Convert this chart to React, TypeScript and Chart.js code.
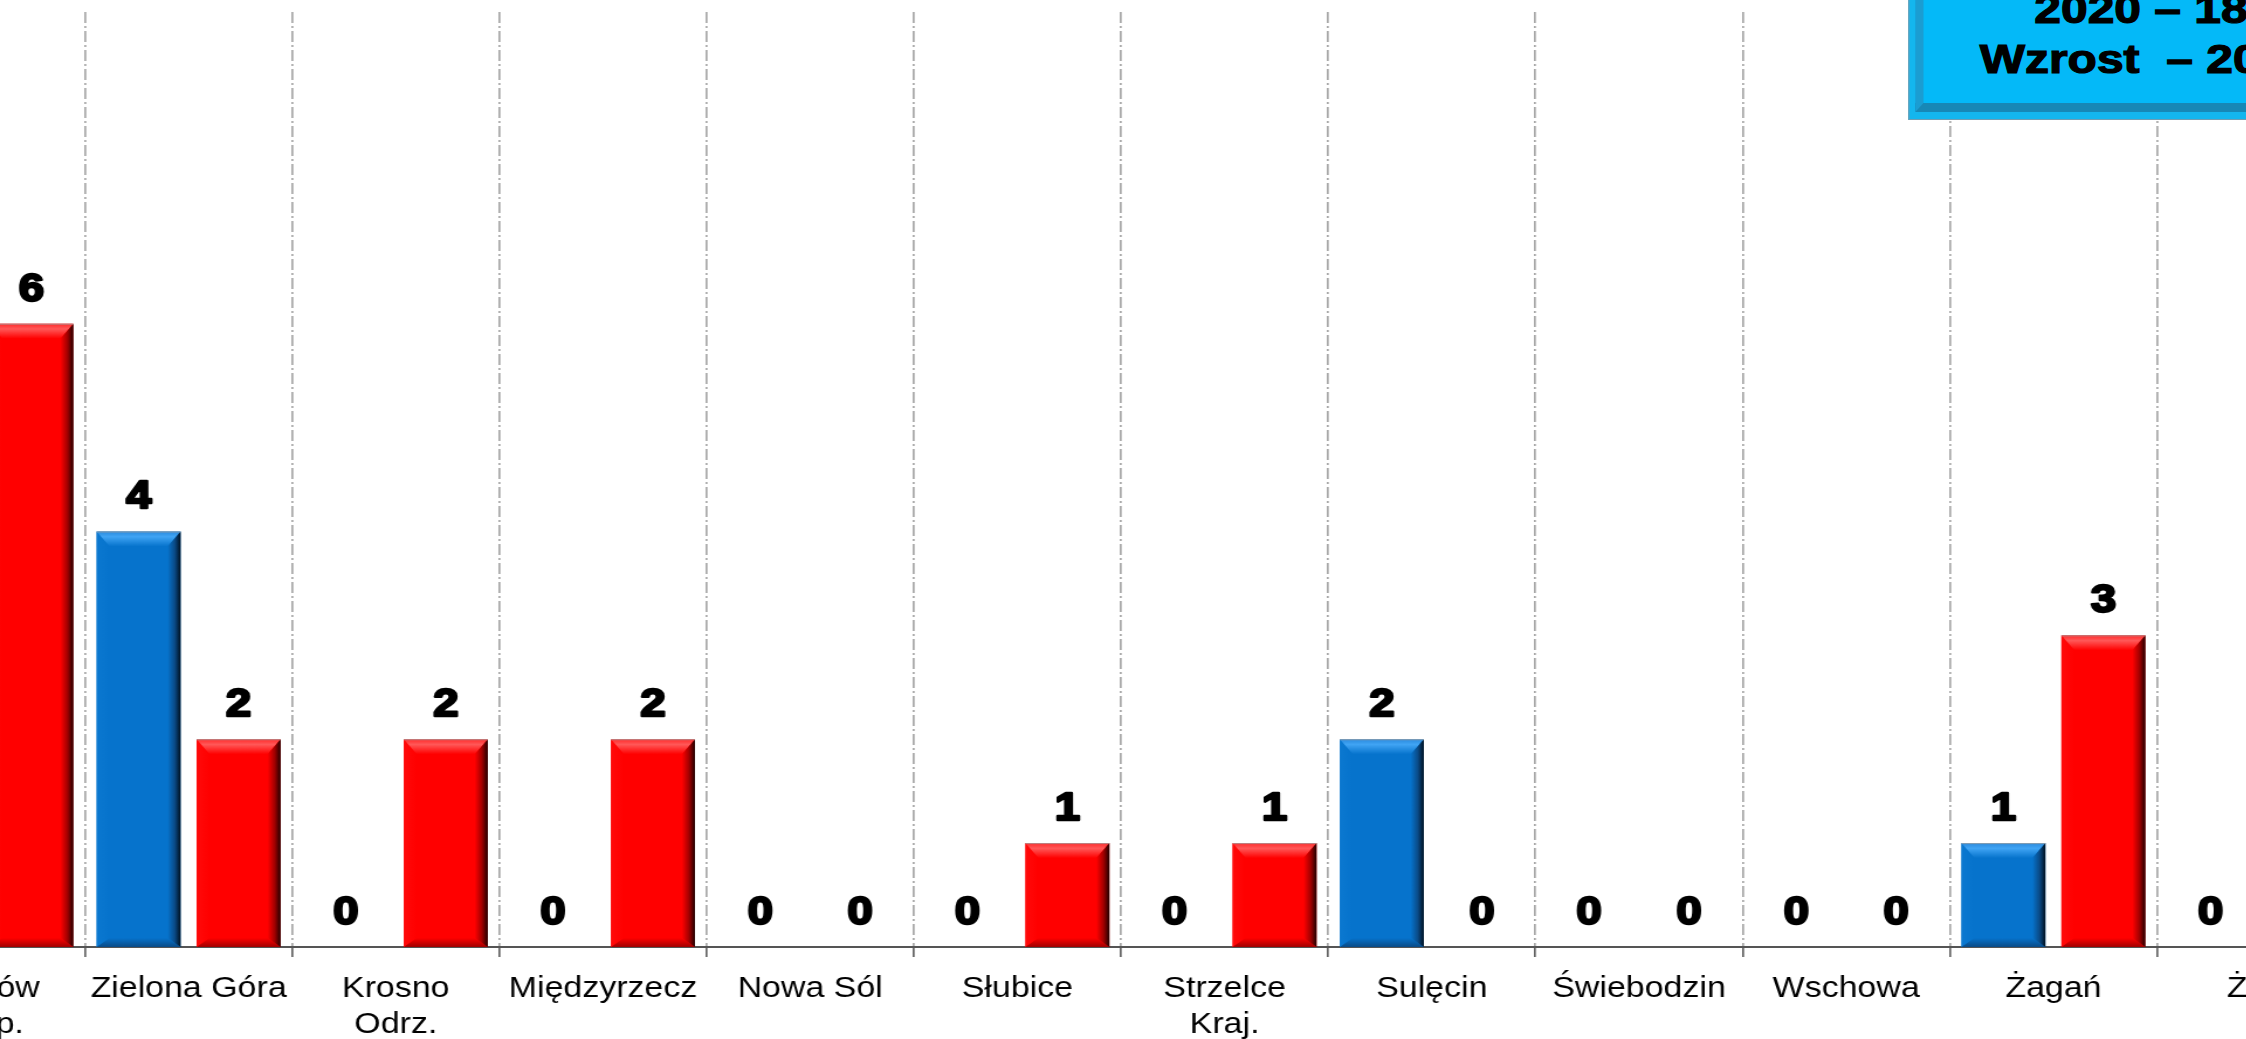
import React, { useEffect, useRef } from "react";
import { Chart, registerables } from "chart.js";

Chart.register(...registerables);

// ---------- data ----------
const categories: (string | string[])[] = [
  ["Gorzów", "Wlkp."],
  "Zielona Góra",
  ["Krosno", "Odrz."],
  "Międzyrzecz",
  "Nowa Sól",
  "Słubice",
  ["Strzelce", "Kraj."],
  "Sulęcin",
  "Świebodzin",
  "Wschowa",
  "Żagań",
  "Żary",
];
const seriesNames = ["2019", "2020"];
const values2019 = [8, 4, 0, 0, 0, 0, 0, 2, 0, 0, 1, 0];
const values2020 = [6, 2, 2, 2, 0, 1, 1, 0, 0, 0, 3, 1];
const summaryLines = ["2019 – 15", "2020 – 18", "Wzrost  – 20%"];
const yMin = 0;
const yMax = 9;

// ---------- styling ----------
const SX = 1.17; // horizontal stretch of the original picture
const FONT = "'Liberation Sans', Arial, Helvetica, sans-serif";

const palettes = [
  {
    base: "#0673cc",
    topEdge: "#2a8ade",
    topLight: "#40a4f4",
    left: "#0b78d0",
    bottom: "#0a4a86",
    rightDark: "#00101f",
  },
  {
    base: "#ff0000",
    topEdge: "#ff2a2a",
    topLight: "#ff5858",
    left: "#ff0a0a",
    bottom: "#a00000",
    rightDark: "#200000",
  },
];

const bevelAndLabels = {
  id: "bevelAndLabels",
  afterDatasetsDraw(chart: any) {
    const ctx: CanvasRenderingContext2D = chart.ctx;
    chart.data.datasets.forEach((_ds: any, di: number) => {
      const meta = chart.getDatasetMeta(di);
      const p = palettes[di];
      meta.data.forEach((el: any) => {
        const { x, y, base, width } = el.getProps(["x", "y", "base", "width"], true);
        const x0 = x - width / 2;
        const x1 = x + width / 2;
        const y0 = Math.min(y, base);
        const y1 = Math.max(y, base);
        const h = y1 - y0;
        if (h < 2) return;
        const bh = Math.min(13 / SX, width / 2);
        const bt = Math.min(15, h / 2);
        const bb = Math.min(9, h / 2);
        ctx.save();
        let g = ctx.createLinearGradient(x0, 0, x0 + bh, 0);
        g.addColorStop(0, p.left);
        g.addColorStop(1, p.base);
        ctx.fillStyle = g;
        ctx.beginPath();
        ctx.moveTo(x0, y0);
        ctx.lineTo(x0 + bh, y0 + bt);
        ctx.lineTo(x0 + bh, y1 - bb);
        ctx.lineTo(x0, y1);
        ctx.closePath();
        ctx.fill();
        g = ctx.createLinearGradient(0, y0, 0, y0 + bt);
        g.addColorStop(0, p.topEdge);
        g.addColorStop(0.35, p.topLight);
        g.addColorStop(1, p.base);
        ctx.fillStyle = g;
        ctx.beginPath();
        ctx.moveTo(x0, y0);
        ctx.lineTo(x1, y0);
        ctx.lineTo(x1 - bh, y0 + bt);
        ctx.lineTo(x0 + bh, y0 + bt);
        ctx.closePath();
        ctx.fill();
        g = ctx.createLinearGradient(0, y1 - bb, 0, y1);
        g.addColorStop(0, p.base);
        g.addColorStop(1, p.bottom);
        ctx.fillStyle = g;
        ctx.beginPath();
        ctx.moveTo(x0, y1);
        ctx.lineTo(x1, y1);
        ctx.lineTo(x1 - bh, y1 - bb);
        ctx.lineTo(x0 + bh, y1 - bb);
        ctx.closePath();
        ctx.fill();
        g = ctx.createLinearGradient(x1 - bh, 0, x1, 0);
        g.addColorStop(0, p.base);
        g.addColorStop(0.55, p.bottom);
        g.addColorStop(1, p.rightDark);
        ctx.fillStyle = g;
        ctx.beginPath();
        ctx.moveTo(x1, y0);
        ctx.lineTo(x1, y1);
        ctx.lineTo(x1 - bh, y1 - bb);
        ctx.lineTo(x1 - bh, y0 + bt);
        ctx.closePath();
        ctx.fill();
        ctx.strokeStyle = "rgba(160,160,160,0.8)";
        ctx.lineWidth = 1;
        ctx.beginPath();
        ctx.moveTo(x0, y0 + 0.5);
        ctx.lineTo(x1, y0 + 0.5);
        ctx.stroke();
        ctx.restore();
      });
    });
    ctx.save();
    ctx.font = `bold 39px ${FONT}`;
    ctx.textAlign = "center";
    ctx.textBaseline = "alphabetic";
    ctx.fillStyle = "#000";
    ctx.strokeStyle = "#000";
    ctx.lineWidth = 2.4;
    ctx.lineJoin = "round";
    chart.data.datasets.forEach((ds: any, di: number) => {
      const meta = chart.getDatasetMeta(di);
      meta.data.forEach((el: any, i: number) => {
        const { x, y } = el.getProps(["x", "y"], true);
        const txt = String(ds.data[i]);
        ctx.strokeText(txt, x, y - 23);
        ctx.fillText(txt, x, y - 23);
      });
    });
    ctx.restore();
  },
};

const STAGE_W = 2246 / SX;
const CANVAS_LEFT = -150;
const CANVAS_W = 2200;
const CANVAS_H = 1057;
const PLOT_LEFT = -122.2 / SX - CANVAS_LEFT;
const PLOT_W = 2486.4 / SX;

export default function App() {
  const ref = useRef<HTMLCanvasElement | null>(null);

  useEffect(() => {
    if (!ref.current) return;
    const chart = new Chart(ref.current, {
      type: "bar",
      data: {
        labels: categories,
        datasets: [
          {
            label: seriesNames[0],
            data: values2019,
            backgroundColor: palettes[0].base,
            borderWidth: 0,
            categoryPercentage: 0.965,
            barPercentage: 0.84,
          },
          {
            label: seriesNames[1],
            data: values2020,
            backgroundColor: palettes[1].base,
            borderWidth: 0,
            categoryPercentage: 0.965,
            barPercentage: 0.84,
          },
        ],
      },
      options: {
        animation: false,
        responsive: true,
        maintainAspectRatio: false,
        devicePixelRatio: 1,
        layout: {
          padding: {
            left: PLOT_LEFT,
            right: CANVAS_W - PLOT_LEFT - PLOT_W,
            top: 12,
            bottom: 0,
          },
        },
        plugins: {
          legend: { display: false },
          tooltip: { enabled: false },
        },
        scales: {
          x: {
            offset: true,
            grid: {
              display: true,
              offset: true,
              color: "#a8a8a8",
              lineWidth: 2 / SX,
              drawOnChartArea: true,
              drawTicks: true,
              tickLength: 10,
              tickColor: "#555",
              tickWidth: 1.8 / SX,
            },
            border: {
              display: true,
              color: "#555",
              width: 2,
              dash: [11, 3, 2, 3],
            },
            ticks: {
              color: "#000",
              padding: 14,
              maxRotation: 0,
              minRotation: 0,
              autoSkip: false,
              font: { family: FONT, size: 29, lineHeight: 36 / 29 },
            },
          },
          y: {
            display: false,
            min: yMin,
            max: yMax,
            grid: { display: false },
          },
        },
      },
      plugins: [bevelAndLabels],
    });
    return () => chart.destroy();
  }, []);

  return (
    <div
      style={{
        position: "fixed",
        left: 0,
        top: 0,
        width: 2246,
        height: 1039,
        overflow: "hidden",
        background: "#fff",
      }}
    >
      <div
        style={{
          position: "absolute",
          left: 0,
          top: 0,
          width: STAGE_W,
          height: CANVAS_H,
          transform: `scaleX(${SX})`,
          transformOrigin: "0 0",
        }}
      >
        <div
          style={{
            position: "absolute",
            left: CANVAS_LEFT,
            top: 0,
            width: CANVAS_W,
            height: CANVAS_H,
          }}
        >
          <canvas ref={ref} />
        </div>
        <div
          style={{
            position: "absolute",
            left: 1908 / SX,
            top: -84,
            width: 466 / SX,
            height: 204,
            boxSizing: "border-box",
            border: "1px solid #6f9db3",
            background: "#14b6ee",
          }}
        >
          <div
            style={{
              position: "absolute",
              left: 6 / SX,
              right: 6 / SX,
              top: 7,
              bottom: 7,
              boxSizing: "border-box",
              background: "#04b9f8",
              borderStyle: "solid",
              borderTopWidth: 8,
              borderBottomWidth: 9,
              borderLeftWidth: 9 / SX,
              borderRightWidth: 9 / SX,
              borderTopColor: "#55cffb",
              borderRightColor: "#0d8fc4",
              borderBottomColor: "#1788b6",
              borderLeftColor: "#1b9dd2",
            }}
          />
          <div
            style={{
              position: "absolute",
              left: 0,
              right: 0,
              top: 17,
              textAlign: "center",
              whiteSpace: "pre",
              font: `bold 41px ${FONT}`,
              lineHeight: "50px",
              color: "#000",
              WebkitTextStroke: "1.2px #000",
            }}
          >
            {summaryLines.map((l, i) => (
              <div key={i}>{l}</div>
            ))}
          </div>
        </div>
      </div>
    </div>
  );
}
